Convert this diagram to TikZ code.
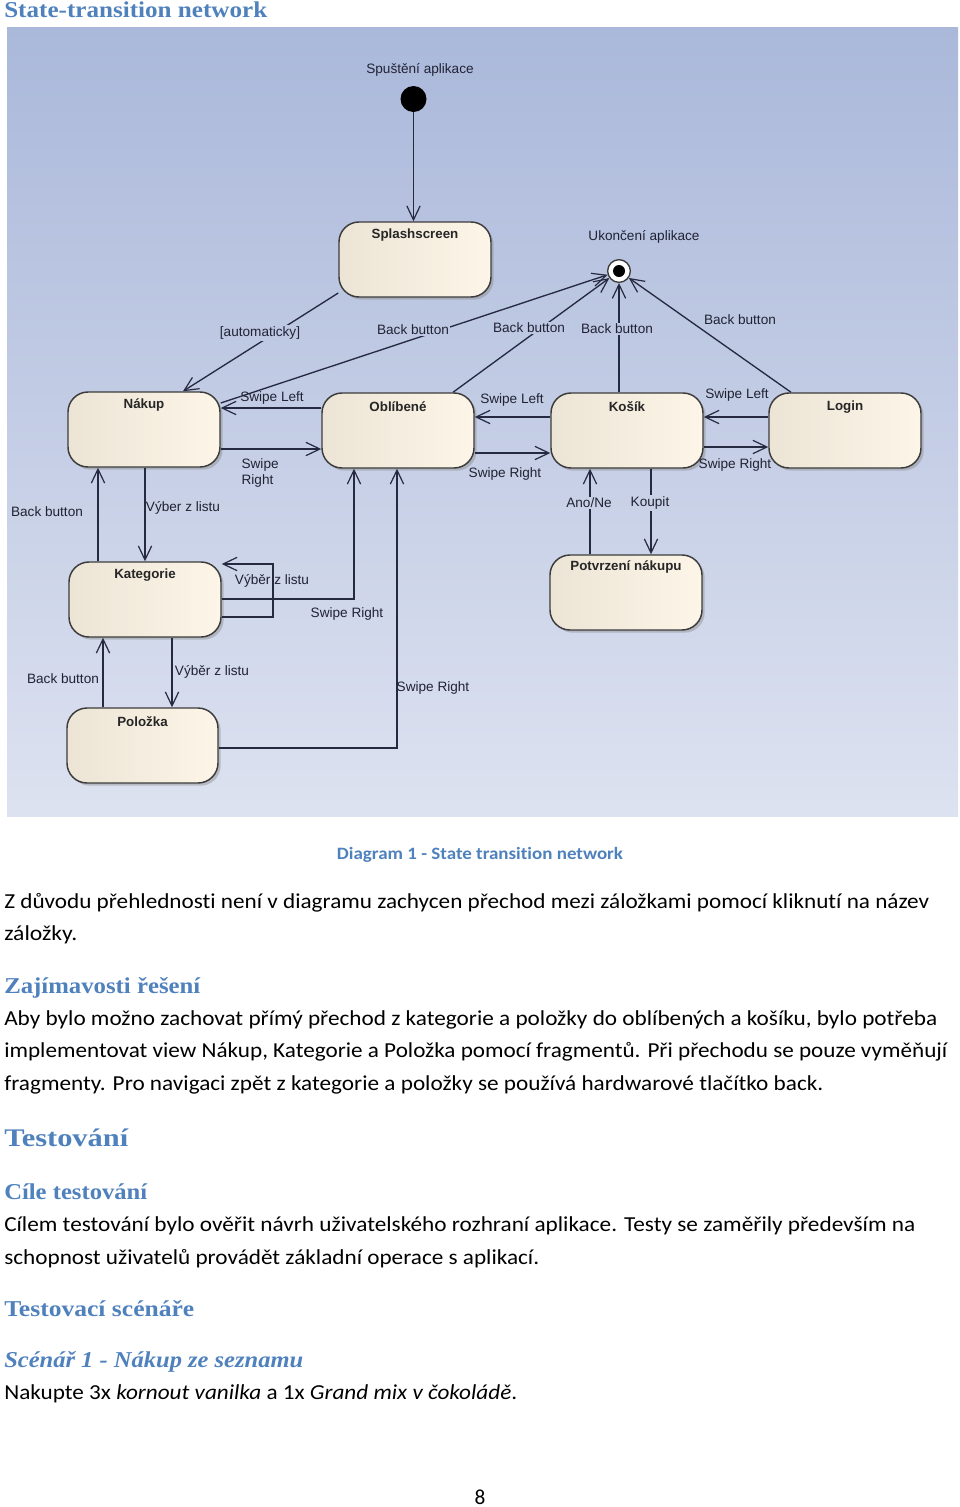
\documentclass[tikz,border=0pt]{standalone}
\usepackage{fontspec}
\usepackage{graphicx}
\setmainfont{Carlito}[RawFeature=-liga, RawFeature=-calt, RawFeature=-clig]
\newfontfamily\dfont{Liberation Sans}
\newfontfamily\hfont{Liberation Serif}
\usetikzlibrary{arrows.meta,shadows,calc}
\definecolor{bgtop}{RGB}{170,184,218}
\definecolor{bgbot}{RGB}{221,226,240}
\definecolor{nleft}{RGB}{236,228,213}
\definecolor{nright}{RGB}{253,245,231}
\definecolor{edgec}{RGB}{38,42,64}
\definecolor{headc}{RGB}{79,129,189}
\definecolor{nbord}{RGB}{60,60,60}
\definecolor{ltext}{RGB}{32,35,52}
\newcommand\fitw[2]{\resizebox{#1}{\height}{#2}}
\begin{document}
\begin{tikzpicture}[x=0.75pt,y=-0.75pt,
  stbox/.style={draw=nbord, line width=1.1pt, rounded corners=15pt,
    minimum width=114pt, minimum height=56.25pt, inner sep=0pt,
    left color=nleft, right color=nright,
    drop shadow={shadow xshift=2pt, shadow yshift=-2pt, fill=black!45, opacity=0.45}},
  ttl/.style={font=\dfont\bfseries\fontsize{10}{12}\selectfont, text=black!85, inner sep=0pt},
  edge/.style={draw=edgec, line width=1pt},
  arr/.style={-{Straight Barb[length=10.5pt,width=10pt,line width=0.9pt]}},
  el/.style={font=\dfont\fontsize{10.2}{12.5}\selectfont, text=ltext, inner sep=1pt},
  elf/.style={el, fill=bgbot!39!bgtop},
  elg/.style={el, fill=bgbot!60!bgtop},
  btxt/.style={anchor=base west, inner sep=0pt, font=\fontsize{16}{19}\selectfont},
  htxt/.style={anchor=base west, inner sep=0pt, text=headc, font=\hfont\bfseries\fontsize{17}{20}\selectfont}
]
\useasboundingbox (0,0) rectangle (960,1507);
\fill[white] (0,0) rectangle (960,1507);
\shade[top color=bgtop, bottom color=bgbot] (7,27) rectangle (958,816);

% states
\node[circle, fill=black, minimum size=19.5pt, inner sep=0pt] (init) at (413.5,99) {};
\node[circle, draw=nbord, fill=white, line width=1pt, minimum size=17pt, inner sep=0pt] (fin) at (619,271) {};
\fill[black] (fin.center) circle[radius=4.5pt];

\node[stbox] (splash) at (415,259.5) {};
\node[stbox] (nakup) at (144,429.5) {};
\node[stbox] (obl) at (398,430.5) {};
\node[stbox] (kosik) at (627,430.5) {};
\node[stbox] (login) at (845,430.5) {};
\node[stbox] (kat) at (145,599.5) {};
\node[stbox] (potv) at (626,592.5) {};
\node[stbox, minimum width=113.25pt] (pol) at (142.5,745.5) {};

\node[ttl] (tsplash) at ($(splash.north)+(0,14)$) {Splashscreen};
\node[ttl] (tnakup) at ($(nakup.north)+(0,14)$) {Nákup};
\node[ttl] (tobl) at ($(obl.north)+(0,14)$) {Oblíbené};
\node[ttl] (tkosik) at ($(kosik.north)+(0,14)$) {Košík};
\node[ttl] (tlogin) at ($(login.north)+(0,15)$) {Login};
\node[ttl] (tkat) at ($(kat.north)+(0,14)$) {Kategorie};
\node[ttl] (tpotv) at ($(potv.north)+(0,13)$) {Potvrzení nákupu};
\node[ttl] (tpol) at ($(pol.north)+(0,14)$) {Položka};

% connectors
\draw[edge,arr] (init) -- (init |- splash.north);
\draw[edge,arr] (splash.west |- 0,293) -- (nakup.north -| 183,0);
\draw[edge,arr] (nakup.east |- 0,403) -- (fin);
\draw[edge,arr] (obl.north -| 453,0) -- (fin);
\draw[edge,arr] (kosik.north -| 619,0) -- (fin);
\draw[edge,arr] (login.north -| 791,0) -- (fin);
\draw[edge,arr] (obl.west |- 0,408) -- (nakup.east |- 0,408);
\draw[edge,arr] (nakup.east |- 0,449) -- (obl.west |- 0,449);
\draw[edge,arr] (kosik.west |- 0,417) -- (obl.east |- 0,417);
\draw[edge,arr] (obl.east |- 0,453) -- (kosik.west |- 0,453);
\draw[edge,arr] (login.west |- 0,417) -- (kosik.east |- 0,417);
\draw[edge,arr] (kosik.east |- 0,447) -- (login.west |- 0,447);
\draw[edge,arr] (nakup.south -| 145,0) -- (kat.north -| 145,0);
\draw[edge,arr] (kat.north -| 98,0) -- (nakup.south -| 98,0);
\draw[edge,arr] (kat.east |- 0,617) -| (273,564) -- (kat.east |- 0,564);
\draw[edge,arr] (kat.east |- 0,599) -| (obl.south -| 354,0);
\draw[edge,arr] (pol.east |- 0,748) -| (obl.south -| 397,0);
\draw[edge,arr] (kat.south -| 172,0) -- (pol.north -| 172,0);
\draw[edge,arr] (pol.north -| 103,0) -- (kat.south -| 103,0);
\draw[edge,arr] (potv.north -| 590,0) -- (kosik.south -| 590,0);
\draw[edge,arr] (kosik.south -| 651,0) -- (potv.north -| 651,0);

% labels
\node[el] (linit) at (420,70) {Spuštění aplikace};
\node[el] (lfin) at (644,237) {Ukončení aplikace};
\node[elf] (lauto) at (260,333) {[automaticky]};
\node[elf] (lb1) at (413,330) {Back button};
\node[elf] (lb2) at (529,328) {Back button};
\node[elf] (lb3) at (617,329) {Back button};
\node[el] (lb4) at (740,320) {Back button};
\node[el] (ls1) at (272,398) {Swipe Left};
\node[el, align=left, anchor=west] (ls2) at (240,473) {Swipe\\Right};
\node[el] (ls3) at (512,400) {Swipe Left};
\node[el] (ls4) at (505,474) {Swipe Right};
\node[el] (ls5) at (737,395) {Swipe Left};
\node[el] (ls6) at (735,465) {Swipe Right};
\node[el] (lb5) at (47,512) {Back button};
\node[el] (lv1) at (183,508) {Výber z listu};
\node[el] (lv2) at (272,581) {Výběr z listu};
\node[el] (ls7) at (347,614) {Swipe Right};
\node[el] (lb6) at (63,679) {Back button};
\node[el] (lv3) at (212,672) {Výběr z listu};
\node[el] (ls8) at (433,688) {Swipe Right};
\node[elg] (lano) at (589,503) {Ano/Ne};
\node[elg] (lkoup) at (650,503) {Koupit};

% document text
\node[htxt] (title) at (4,17.5) {\fitw{197.25pt}{State-transition network}};
\node[anchor=base, inner sep=0pt, text=headc, font=\bfseries\fontsize{13}{15}\selectfont] (cap) at (480,859) {\fitw{214.5pt}{Diagram 1 - State transition network}};
\node[btxt] (p1) at (4,908) {\fitw{693.75pt}{Z důvodu přehlednosti není v diagramu zachycen přechod mezi záložkami pomocí kliknutí na název}};
\node[btxt] (p2) at (4,940.5) {\fitw{54.75pt}{záložky.}};
\node[htxt] (h1) at (4,993) {\fitw{147pt}{Zajímavosti řešení}};
\node[btxt] (p3) at (4,1025) {\fitw{699.75pt}{Aby bylo možno zachovat přímý přechod z kategorie a položky do oblíbených a košíku, bylo potřeba}};
\node[btxt] (p4) at (4,1057.5) {\fitw{707.25pt}{implementovat view Nákup, Kategorie a Položka pomocí fragmentů. Při přechodu se pouze vyměňují}};
\node[btxt] (p5) at (4,1090) {\fitw{614.25pt}{fragmenty. Pro navigaci zpět z kategorie a položky se používá hardwarové tlačítko back.}};
\node[htxt, font=\hfont\bfseries\fontsize{19}{22}\selectfont] (h2) at (4,1146) {\fitw{93pt}{Testování}};
\node[htxt] (h3) at (4,1199) {\fitw{107.25pt}{Cíle testování}};
\node[btxt] (p6) at (4,1231) {\fitw{683.25pt}{Cílem testování bylo ověřit návrh uživatelského rozhraní aplikace. Testy se zaměřily především na}};
\node[btxt] (p7) at (4,1264) {\fitw{401.25pt}{schopnost uživatelů provádět základní operace s aplikací.}};
\node[htxt] (h4) at (4,1316.5) {\fitw{142.5pt}{Testovací scénáře}};
\node[htxt, font=\hfont\bfseries\itshape\fontsize{17}{20}\selectfont] (h5) at (4,1367) {\fitw{224.25pt}{Scénář 1 - Nákup ze seznamu}};
\node[btxt] (p8) at (4,1399) {\fitw{384.75pt}{Nakupte 3x \textit{kornout vanilka} a 1x \textit{Grand mix v čokoládě}.}};
\node[anchor=base, inner sep=0pt, font=\fontsize{16}{19}\selectfont] (pg) at (480,1504) {8};
\end{tikzpicture}
\end{document}
